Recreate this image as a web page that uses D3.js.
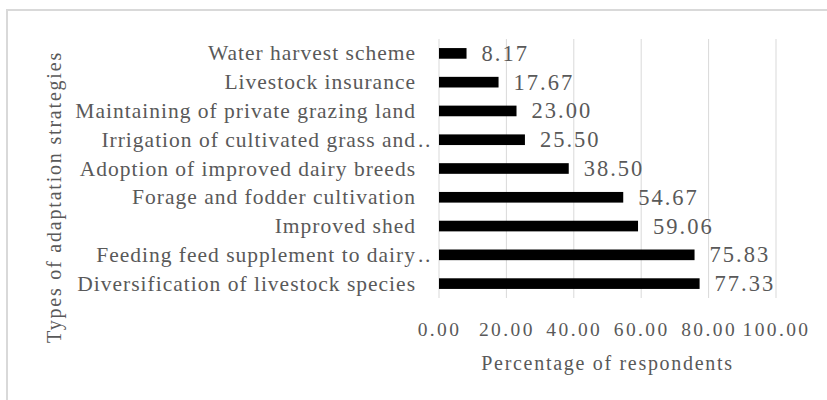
<!DOCTYPE html>
<html>
<head>
<meta charset="utf-8">
<script src="https://cdn.jsdelivr.net/npm/d3@7"></script>
<style>
  html, body { margin: 0; padding: 0; background: #fff; }
  svg { display: block; }
</style>
</head>
<body>
<svg id="chart" width="827" height="400" font-family="Liberation Serif" fill="#595959"></svg>
<script>
// Adaptation strategies, listed top to bottom
const categories = [
  "Water harvest scheme",
  "Livestock insurance",
  "Maintaining of private grazing land",
  "Irrigation of cultivated grass and..",
  "Adoption of improved dairy breeds",
  "Forage and fodder cultivation",
  "Improved shed",
  "Feeding feed supplement to dairy..",
  "Diversification of livestock species"
];
const values = [8.17, 17.67, 23.00, 25.50, 38.50, 54.67, 59.06, 75.83, 77.33];
const xTicks = [0, 20, 40, 60, 80, 100];
const xTitle = "Percentage of respondents";
const yTitle = "Types of adaptation strategies";

const svg = d3.select("#chart");
const margin = { left: 439, right: 51, top: 39, bottom: 102 };
const W = 827, H = 400;
const textColor = "#595959";

// chart area frame
svg.append("rect")
  .attr("x", 7).attr("y", 10)
  .attr("width", 840).attr("height", 420)
  .attr("fill", "none")
  .attr("stroke", "#d9d9d9")
  .attr("stroke-width", 2);

const x = d3.scaleLinear().domain([0, 100]).range([margin.left, W - margin.right]);
const y = d3.scaleBand().domain(categories).range([margin.top, H - margin.bottom]).paddingInner(0.63).paddingOuter(0.315);

// vertical gridlines
svg.append("g")
  .selectAll("line")
  .data(xTicks)
  .join("line")
  .attr("x1", d => x(d)).attr("x2", d => x(d))
  .attr("y1", margin.top).attr("y2", H - margin.bottom)
  .attr("stroke", "#d9d9d9")
  .attr("stroke-width", 1);

// x axis tick labels
const xAxis = d3.axisBottom(x).tickValues(xTicks).tickFormat(d3.format(".2f")).tickSize(0).tickPadding(0);
const gx = svg.append("g").attr("transform", `translate(0,${H - margin.bottom})`).call(xAxis);
gx.select(".domain").remove();
gx.attr("font-family", "Liberation Serif").attr("font-size", null);
gx.selectAll("text")
  .attr("y", 38).attr("dy", 0)
  .attr("fill", textColor)
  .style("font-size", "19.5px")
  .style("letter-spacing", "2.4px");

// category labels
const gy = svg.append("g").attr("fill", textColor);
gy.selectAll("text.cat")
  .data(categories)
  .join("text")
  .attr("class", "cat")
  .attr("x", 416)
  .attr("y", d => y(d) + y.bandwidth() / 2 + 7)
  .attr("text-anchor", "end")
  .style("font-size", "21.5px")
  .style("letter-spacing", "1px")
  .text(d => d.replace(/\.\.$/, ""));
// trailing dots of shortened labels
gy.selectAll("text.dots")
  .data(categories.filter(d => d.endsWith("..")))
  .join("text")
  .attr("class", "dots")
  .attr("x", 418)
  .attr("y", d => y(d) + y.bandwidth() / 2 + 7)
  .style("font-size", "21.5px")
  .style("letter-spacing", "1.5px")
  .text("..");

// bars
svg.append("g")
  .selectAll("rect")
  .data(values)
  .join("rect")
  .attr("x", x(0))
  .attr("y", (d, i) => y(categories[i]))
  .attr("width", d => x(d) - x(0))
  .attr("height", y.bandwidth())
  .attr("fill", "#000");

// value labels
svg.append("g").attr("fill", textColor)
  .selectAll("text")
  .data(values)
  .join("text")
  .attr("x", d => x(d) + 15)
  .attr("y", (d, i) => y(categories[i]) + y.bandwidth() / 2 + 7.5)
  .style("font-size", "22.5px")
  .style("letter-spacing", "2px")
  .text(d => d.toFixed(2));

// axis titles
svg.append("text")
  .attr("x", x(50)).attr("y", 370)
  .attr("text-anchor", "middle")
  .attr("fill", textColor)
  .style("font-size", "20px")
  .style("letter-spacing", "1.7px")
  .text(xTitle);

svg.append("text")
  .attr("transform", `translate(61,197) rotate(-90)`)
  .attr("text-anchor", "middle")
  .attr("fill", textColor)
  .style("font-size", "20px")
  .style("letter-spacing", "1.8px")
  .text(yTitle);
</script>
</body>
</html>
